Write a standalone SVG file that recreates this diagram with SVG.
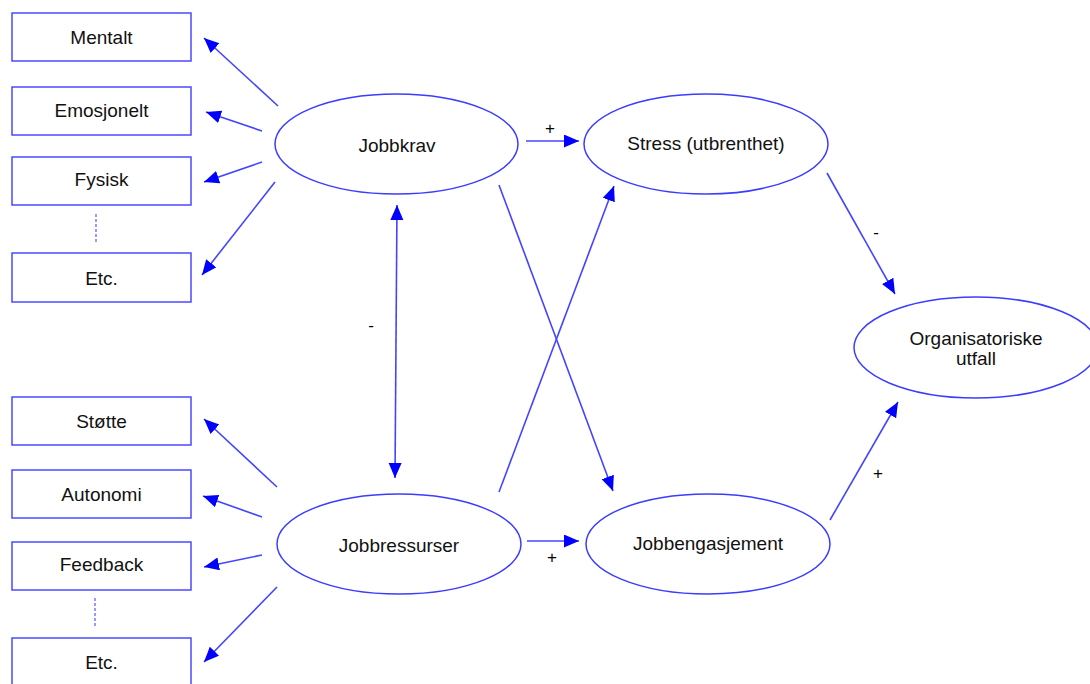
<svg xmlns="http://www.w3.org/2000/svg" width="1090" height="684" viewBox="0 0 1090 684">
<style>
.box{fill:#ffffff;stroke:#4a4aff;stroke-width:1.5}
.ell{fill:#ffffff;stroke:#3c3cff;stroke-width:1.5}
.t{font-family:"Liberation Sans",Arial,sans-serif;font-size:19px;fill:#111111;text-anchor:middle}
.lbl{font-family:"Liberation Sans",Arial,sans-serif;font-size:17px;fill:#000000;text-anchor:middle}
.c{stroke:#4444ff;stroke-width:1.6;fill:none}
.arr{marker-end:url(#ah)}
.dot{stroke:#5555ff;stroke-width:1.2;stroke-dasharray:3,2;fill:none}
</style>
<defs>
<marker id="ah" markerUnits="userSpaceOnUse" markerWidth="16" markerHeight="14" refX="15" refY="6.5" orient="auto-start-reverse">
<path d="M0,0 L15,6.5 L0,13 z" fill="#0000ff"/>
</marker>
</defs>
<rect width="1090" height="684" fill="#ffffff"/>
<g id="connectors">
<line class="c arr" x1="278" y1="106" x2="204" y2="38"/>
<line class="c arr" x1="262" y1="131" x2="206" y2="112"/>
<line class="c arr" x1="262" y1="162" x2="204" y2="182"/>
<line class="c arr" x1="275" y1="182" x2="202" y2="275"/>
<line class="c arr" x1="277" y1="487" x2="204" y2="419"/>
<line class="c arr" x1="262" y1="517" x2="203" y2="496"/>
<line class="c arr" x1="262" y1="555" x2="204" y2="567"/>
<line class="c arr" x1="277" y1="587" x2="204" y2="662"/>
<line class="c arr" x1="526" y1="141" x2="579" y2="141"/>
<line class="c arr" x1="397" y1="205" x2="395" y2="478" marker-start="url(#ah)"/>
<line class="c arr" x1="499" y1="185" x2="613" y2="491"/>
<line class="c arr" x1="499" y1="492" x2="614" y2="186"/>
<line class="c arr" x1="527" y1="541" x2="579" y2="541"/>
<line class="c arr" x1="827" y1="173" x2="895" y2="294"/>
<line class="c arr" x1="830" y1="520" x2="898" y2="402"/>
<line class="dot" x1="96" y1="214" x2="96" y2="244"/>
<line class="dot" x1="95" y1="598" x2="95" y2="628"/>
<text class="lbl" x="550" y="134">+</text>
<text class="lbl" x="371" y="331">-</text>
<text class="lbl" x="552" y="563">+</text>
<text class="lbl" x="876" y="238">-</text>
<text class="lbl" x="878" y="479">+</text>
</g>
<g id="mentalt"><rect class="box" x="12" y="13" width="179" height="48"/><text class="t" x="101.5" y="44">Mentalt</text></g>
<g id="emosjonelt"><rect class="box" x="12" y="87" width="179" height="48"/><text class="t" x="101.5" y="117">Emosjonelt</text></g>
<g id="fysisk"><rect class="box" x="12" y="157" width="179" height="48"/><text class="t" x="101.5" y="186">Fysisk</text></g>
<g id="etc1"><rect class="box" x="12" y="253" width="179" height="49"/><text class="t" x="101.5" y="285">Etc.</text></g>
<g id="stotte"><rect class="box" x="12" y="397" width="179" height="48"/><text class="t" x="101.5" y="428">Støtte</text></g>
<g id="autonomi"><rect class="box" x="12" y="470" width="179" height="48"/><text class="t" x="101.5" y="501">Autonomi</text></g>
<g id="feedback"><rect class="box" x="12" y="542" width="179" height="48"/><text class="t" x="101.5" y="571">Feedback</text></g>
<g id="etc2"><rect class="box" x="12" y="638" width="179" height="48"/><text class="t" x="101.5" y="669">Etc.</text></g>
<g id="jobbkrav"><ellipse class="ell" cx="396.5" cy="144" rx="121.5" ry="50"/><text class="t" x="397" y="152">Jobbkrav</text></g>
<g id="stress"><ellipse class="ell" cx="706" cy="144" rx="122" ry="50"/><text class="t" x="706" y="150">Stress (utbrenthet)</text></g>
<g id="jobbressurser"><ellipse class="ell" cx="399" cy="544" rx="122" ry="50"/><text class="t" x="399" y="552">Jobbressurser</text></g>
<g id="jobbengasjement"><ellipse class="ell" cx="708" cy="544" rx="122" ry="50"/><text class="t" x="708" y="550">Jobbengasjement</text></g>
<g id="organisatoriske"><ellipse class="ell" cx="976" cy="347.5" rx="122" ry="50.5"/><text class="t" x="976" y="345">Organisatoriske</text><text class="t" x="976" y="365">utfall</text></g>
</svg>
